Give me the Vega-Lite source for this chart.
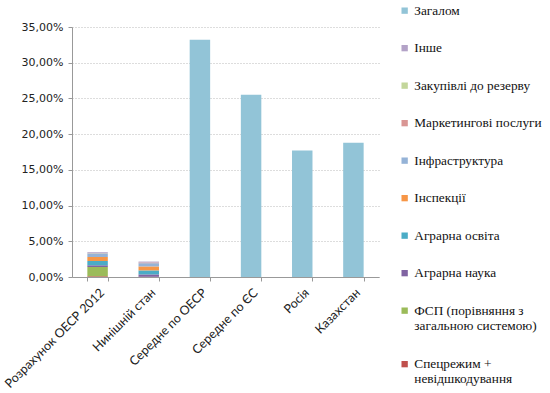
{
  "$schema": "https://vega.github.io/schema/vega-lite/v6.json",
  "width": 307,
  "height": 250,
  "autosize": {"type": "none"},
  "padding": {"left": 72, "top": 27, "right": 171, "bottom": 116},
  "background": "white",
  "config": {"view": {"stroke": null}},
  "data": {"values": [
    {"cat": "Розрахунок ОЕСР 2012", "series": "Спецрежим + невідшкодування", "k": 1, "v": 0.001},
    {"cat": "Розрахунок ОЕСР 2012", "series": "ФСП (порівняння з загальною системою)", "k": 2, "v": 0.013},
    {"cat": "Розрахунок ОЕСР 2012", "series": "Аграрна наука", "k": 3, "v": 0.0024},
    {"cat": "Розрахунок ОЕСР 2012", "series": "Аграрна освіта", "k": 4, "v": 0.006},
    {"cat": "Розрахунок ОЕСР 2012", "series": "Інспекції", "k": 5, "v": 0.0056},
    {"cat": "Розрахунок ОЕСР 2012", "series": "Інфраструктура", "k": 6, "v": 0.005},
    {"cat": "Розрахунок ОЕСР 2012", "series": "Маркетингові послуги", "k": 7, "v": 0.0003},
    {"cat": "Розрахунок ОЕСР 2012", "series": "Закупівлі до резерву", "k": 8, "v": 0.0002},
    {"cat": "Розрахунок ОЕСР 2012", "series": "Інше", "k": 9, "v": 0.0012},
    {"cat": "Нинішній стан", "series": "Спецрежим + невідшкодування", "k": 1, "v": 0.0003},
    {"cat": "Нинішній стан", "series": "Аграрна наука", "k": 3, "v": 0.0033},
    {"cat": "Нинішній стан", "series": "Аграрна освіта", "k": 4, "v": 0.0056},
    {"cat": "Нинішній стан", "series": "Інспекції", "k": 5, "v": 0.0056},
    {"cat": "Нинішній стан", "series": "Інфраструктура", "k": 6, "v": 0.0045},
    {"cat": "Нинішній стан", "series": "Маркетингові послуги", "k": 7, "v": 0.001},
    {"cat": "Нинішній стан", "series": "Інше", "k": 9, "v": 0.0013},
    {"cat": "Середне по ОЕСР", "series": "Загалом", "k": 10, "v": 0.332},
    {"cat": "Середне по ЄС", "series": "Загалом", "k": 10, "v": 0.255},
    {"cat": "Росія", "series": "Загалом", "k": 10, "v": 0.177},
    {"cat": "Казахстан", "series": "Загалом", "k": 10, "v": 0.188}
  ]},
  "mark": {"type": "bar"},
  "encoding": {
    "x": {
      "field": "cat", "type": "nominal", "sort": null,
      "scale": {"paddingInner": 0.6, "paddingOuter": 0.3},
      "axis": {
        "title": null, "labelAngle": -45, "labelAlign": "right", "labelBaseline": "top",
        "labelFont": "Lato", "labelFontSize": 12.5, "labelColor": "#222", "labelPadding": 5,
        "tickBand": "extent", "tickSize": 4, "tickColor": "#999", "domainColor": "#999",
        "labelLimit": 300
      }
    },
    "y": {
      "field": "v", "type": "quantitative", "stack": "zero",
      "scale": {"domain": [0, 0.35], "nice": false},
      "axis": {
        "title": null, "values": [0, 0.05, 0.1, 0.15, 0.2, 0.25, 0.3, 0.35],
        "labelExpr": "replace(format(datum.value, '.2%'), '.', ',')",
        "labelFont": "DejaVu Sans", "labelFontSize": 11, "labelColor": "#222", "labelPadding": 5,
        "tickSize": 4, "tickColor": "#999", "domainColor": "#999",
        "gridColor": "#bbb", "gridDash": [1, 2]
      }
    },
    "color": {
      "field": "series", "type": "nominal",
      "scale": {
        "domain": ["Загалом", "Інше", "Закупівлі до резерву", "Маркетингові послуги", "Інфраструктура", "Інспекції", "Аграрна освіта", "Аграрна наука", "ФСП (порівняння з загальною системою)", "Спецрежим + невідшкодування"],
        "range": ["#92C4D7", "#B3A2C7", "#C3D69B", "#D99694", "#95B3D7", "#F79646", "#4BACC6", "#8064A2", "#9BBB59", "#C0504D"]
      },
      "legend": {
        "title": null, "orient": "none", "legendX": 326, "legendY": -23,
        "symbolType": "square", "symbolSize": 40, "symbolStrokeWidth": 0,
        "labelFont": "Liberation Serif", "labelFontSize": 13.3, "labelColor": "#111",
        "labelOffset": 3, "rowPadding": 23.5, "padding": 0, "labelLimit": 200,
        "labelExpr": "datum.label == 'ФСП (порівняння з загальною системою)' ? ['ФСП (порівняння з', 'загальною системою)'] : datum.label == 'Спецрежим + невідшкодування' ? ['Спецрежим +', 'невідшкодування'] : datum.label"
      }
    },
    "order": {"field": "k", "type": "quantitative", "sort": "ascending"}
  }
}
